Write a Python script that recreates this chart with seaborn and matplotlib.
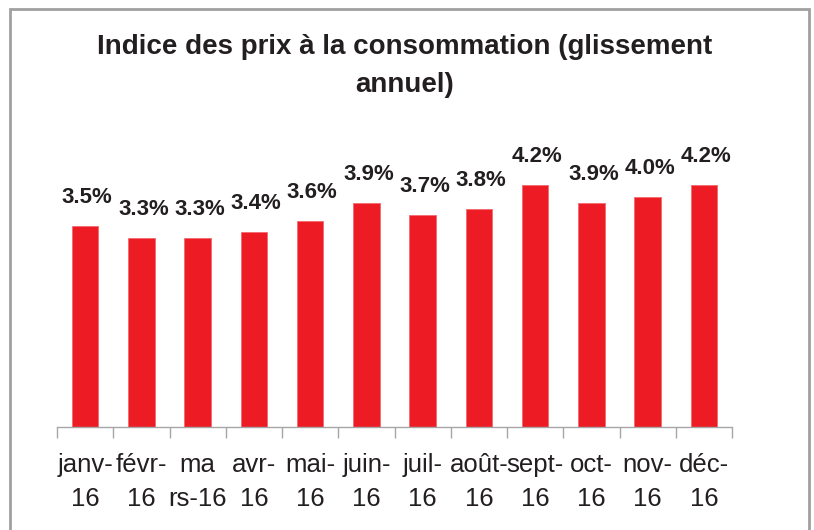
import matplotlib
matplotlib.use("Agg")
import matplotlib.pyplot as plt
import seaborn as sns
import pandas as pd
import numpy as np
from matplotlib.patches import Rectangle

months = ["janv-\n16", "févr-\n16", "ma\nrs-16", "avr-\n16", "mai-\n16", "juin-\n16",
          "juil-\n16", "août-\n16", "sept-\n16", "oct-\n16", "nov-\n16", "déc-\n16"]
values = [3.5, 3.3, 3.3, 3.4, 3.6, 3.9, 3.7, 3.8, 4.2, 3.9, 4.0, 4.2]
value_labels = ["3.5%", "3.3%", "3.3%", "3.4%", "3.6%", "3.9%", "3.7%", "3.8%",
                "4.2%", "3.9%", "4.0%", "4.2%"]
title = "Indice des prix à la consommation (glissement\nannuel)"

sns.set_theme(style="white")
plt.rcParams['font.family'] = ['Liberation Sans', 'DejaVu Sans']

df = pd.DataFrame({"mois": months, "val": values})

fig = plt.figure(figsize=(8.14, 5.30), dpi=100)
ax = fig.add_axes([57/814, 103/530, (732-57)/814, 289/530])

sns.barplot(data=df, x="mois", y="val", color="#ED1C24", width=0.47, ax=ax,
            saturation=1, edgecolor="#F26B6E", linewidth=0.6)

ax.set_ylim(0.1, 5.0)
ax.set_xlim(-0.5, len(months) - 0.5)
ax.set_xlabel("")
ax.set_ylabel("")
ax.set_yticks([])
for s in ["top", "right", "left"]:
    ax.spines[s].set_visible(False)
ax.spines["bottom"].set_color("#A6A6A6")
ax.spines["bottom"].set_linewidth(1.0)

ax.set_xticks(range(len(months)))
ax.set_xticklabels(months, fontsize=18.5, color="#231F20", linespacing=1.5)
ax.tick_params(axis="x", which="major", length=0, pad=19)
ax.set_xticks(np.arange(-0.5, len(months), 1.0), minor=True)
ax.tick_params(axis="x", which="minor", length=8, width=1.0, color="#A6A6A6",
               direction="out", bottom=True)

for i, (v, lab) in enumerate(zip(values, value_labels)):
    ax.annotate(lab, (i, v), xytext=(1.5, 13), textcoords="offset points",
                ha="center", va="bottom", fontsize=16, fontweight="bold",
                color="#231F20")

fig.text(405/814, 1 - 66/530, title, ha="center", va="center", fontsize=20,
         fontweight="bold", color="#231F20", linespacing=1.6)

fig.patches.append(Rectangle((10/814, -0.1), (809-10)/814, 1.1 - 9/530,
                             transform=fig.transFigure, fill=False,
                             edgecolor="#A0A0A0", linewidth=2))

fig.savefig("out.png", dpi=100)
